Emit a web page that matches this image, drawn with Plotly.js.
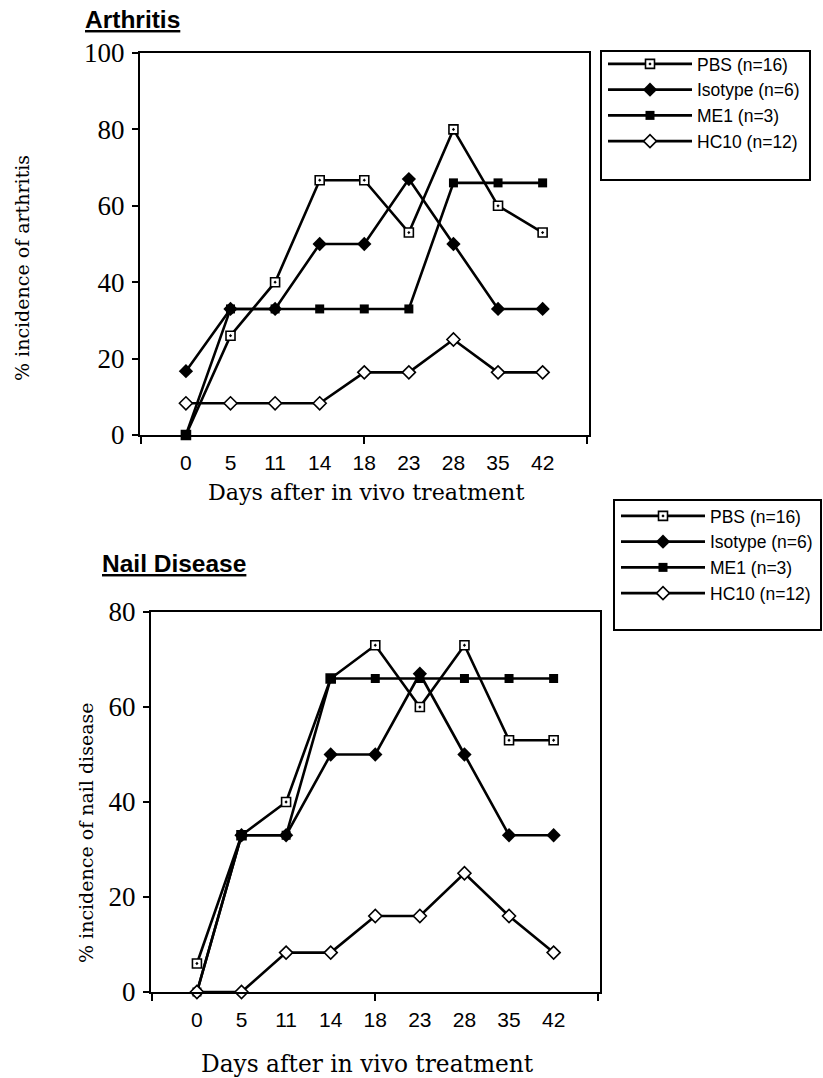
<!DOCTYPE html>
<html>
<head>
<meta charset="utf-8">
<script src="https://cdn.plot.ly/plotly-3.0.1.min.js"></script>
<style>html,body{margin:0;padding:0;background:#fff;}#chart{width:823px;height:1078px;}</style>
</head>
<body>
<div id="chart"></div>
<script>
// Tick labels (days after in vivo treatment)
var days = ['0', '5', '11', '14', '18', '23', '28', '35', '42'];

// Series names
var seriesNames = ['PBS (n=16)', 'Isotype (n=6)', 'ME1 (n=3)', 'HC10 (n=12)'];

// Arthritis (% incidence)
var arthPBS     = [0, 26, 40, 66.7, 66.7, 53, 80, 60, 53];
var arthIsotype = [16.7, 33, 33, 50, 50, 67, 50, 33, 33];
var arthME1     = [0, 33, 33, 33, 33, 33, 66, 66, 66];
var arthHC10    = [8.3, 8.3, 8.3, 8.3, 16.4, 16.4, 25, 16.4, 16.4];

// Nail disease (% incidence)
var nailPBS     = [6, 33, 40, 66, 73, 60, 73, 53, 53];
var nailIsotype = [0, 33, 33, 50, 50, 67, 50, 33, 33];
var nailME1     = [0, 33, 33, 66, 66, 66, 66, 66, 66];
var nailHC10    = [0, 0, 8.3, 8.3, 16, 16, 25, 16, 8.3];

var arthSeries = [arthPBS, arthIsotype, arthME1, arthHC10];
var nailSeries = [nailPBS, nailIsotype, nailME1, nailHC10];

// category positions (one slot per day label)
var dayPos = days.map(function (d, i) { return i; });

var W = 823, H = 1078;
function px(x) { return x / W; }
function py(y) { return 1 - y / H; }

var markerStyles = [
  {symbol: 'square-dot', size: 9, color: '#ffffff', line: {color: '#000', width: 1.6}},
  {symbol: 'diamond', size: 11, color: '#000000', line: {color: '#000', width: 0}},
  {symbol: 'square', size: 9, color: '#000000', line: {color: '#000', width: 0}},
  {symbol: 'diamond', size: 10, color: '#ffffff', line: {color: '#000', width: 1.6}}
];

var traces = [];
function addSet(series, xa, ya, leg) {
  series.forEach(function (vals, i) {
    traces.push({
      type: 'scatter', mode: 'lines+markers',
      x: dayPos, y: vals, xaxis: xa, yaxis: ya,
      name: seriesNames[i], legend: leg,
      line: {color: '#000', width: 2.6},
      marker: markerStyles[i],
      cliponaxis: false
    });
  });
}
addSet(arthSeries, 'x', 'y', 'legend');
addSet(nailSeries, 'x2', 'y2', 'legend2');

var serif = 'Liberation Serif, Times New Roman, serif';
var titleSerif = 'DejaVu Serif, serif';
var sans = 'Liberation Sans, Arial, sans-serif';

var topX = [140, 589], topY = [53, 435];
var botX = [151, 600], botY = [612, 992];
var xr = [-1.03, 9.04];

function dayAxis(dom, anchor) {
  return {
    type: 'linear', domain: [px(dom[0]), px(dom[1])], anchor: anchor,
    range: xr, showgrid: false, zeroline: false,
    showline: true, linecolor: '#000', linewidth: 2, mirror: true,
    tickmode: 'array', tickvals: dayPos, ticktext: days,
    ticks: '', tickfont: {family: sans, size: 21, color: '#000'},
    ticklabelstandoff: 8, fixedrange: true,
    minor: {tickmode: 'array', tickvals: [-1, 4, 9], ticks: 'outside', ticklen: 7,
            tickwidth: 2, tickcolor: '#000', showgrid: false}
  };
}
function valAxis(dom, anchor, maxv) {
  return {
    domain: [py(dom[1]), py(dom[0])], anchor: anchor, range: [0, maxv],
    tickmode: 'linear', tick0: 0, dtick: 20, ticks: 'outside', ticklen: 6,
    tickwidth: 2, tickcolor: '#000', showgrid: false, zeroline: false,
    showline: true, linecolor: '#000', linewidth: 2, mirror: true,
    ticklabelstandoff: 2,
    tickfont: {family: serif, size: 27, color: '#000'}, fixedrange: true
  };
}

var layout = {
  width: W, height: H, margin: {l: 0, r: 0, t: 0, b: 0},
  paper_bgcolor: '#fff', plot_bgcolor: '#fff', showlegend: true,
  xaxis: dayAxis(topX, 'y'),
  yaxis: valAxis(topY, 'x', 100),
  xaxis2: dayAxis(botX, 'y2'),
  yaxis2: valAxis(botY, 'x2', 80),
  legend: {
    x: px(603), y: py(46), xanchor: 'left', yanchor: 'top',
    bgcolor: 'rgba(0,0,0,0)', borderwidth: 0, tracegroupgap: 0,
    font: {family: sans, size: 17.5, color: '#000'}, itemwidth: 84
  },
  legend2: {
    x: px(616), y: py(498), xanchor: 'left', yanchor: 'top',
    bgcolor: 'rgba(0,0,0,0)', borderwidth: 0,
    font: {family: sans, size: 17.5, color: '#000'}, itemwidth: 84
  },
  shapes: [
    {type: 'rect', xref: 'paper', yref: 'paper', x0: px(601), x1: px(810), y0: py(180), y1: py(51), line: {color: '#000', width: 2}},
    {type: 'rect', xref: 'paper', yref: 'paper', x0: px(614), x1: px(821), y0: py(630), y1: py(500), line: {color: '#000', width: 2}}
  ],
  annotations: [
    {text: 'Arthritis', xref: 'paper', yref: 'paper', x: px(83), y: py(20), xanchor: 'left', yanchor: 'middle', showarrow: false,
     font: {family: sans, size: 24.5, color: '#000', weight: 'bold', lineposition: 'under'}},
    {text: 'Nail Disease', xref: 'paper', yref: 'paper', x: px(100), y: py(563), xanchor: 'left', yanchor: 'middle', showarrow: false,
     font: {family: sans, size: 24.5, color: '#000', weight: 'bold', lineposition: 'under'}},
    {text: '% incidence of arthritis', xref: 'paper', yref: 'paper', x: px(22), y: py(268), textangle: -90, xanchor: 'center', yanchor: 'middle', showarrow: false,
     font: {family: titleSerif, size: 19, color: '#000'}},
    {text: '% incidence of nail disease', xref: 'paper', yref: 'paper', x: px(86), y: py(833), textangle: -90, xanchor: 'center', yanchor: 'middle', showarrow: false,
     font: {family: titleSerif, size: 19, color: '#000'}},
    {text: 'Days after in vivo treatment', xref: 'paper', yref: 'paper', x: px(366), y: py(492), xanchor: 'center', yanchor: 'middle', showarrow: false,
     font: {family: titleSerif, size: 22.2, color: '#000'}},
    {text: 'Days after in vivo treatment', xref: 'paper', yref: 'paper', x: px(367), y: py(1063), xanchor: 'center', yanchor: 'middle', showarrow: false,
     font: {family: titleSerif, size: 23.3, color: '#000'}}
  ]
};

Plotly.newPlot('chart', traces, layout, {displayModeBar: false, staticPlot: true});
</script>
</body>
</html>
